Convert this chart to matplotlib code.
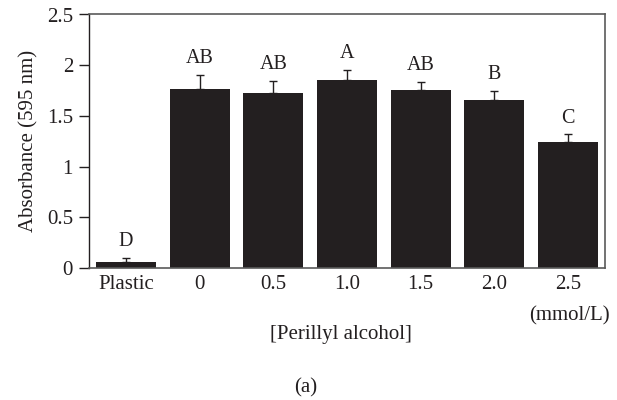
import matplotlib
matplotlib.use("Agg")
import matplotlib.pyplot as plt

categories = ["Plastic", "0", "0.5", "1.0", "1.5", "2.0", "2.5"]
values = [0.057, 1.766, 1.726, 1.858, 1.759, 1.660, 1.242]
errors = [0.045, 0.135, 0.115, 0.092, 0.076, 0.082, 0.075]
letters = ["D", "AB", "AB", "A", "AB", "B", "C"]
yticks = [0, 0.5, 1, 1.5, 2, 2.5]
yticklabels = ["0", "0.5", "1", "1.5", "2", "2.5"]

plt.rcParams['font.family'] = ['Liberation Serif', 'DejaVu Serif']

fig = plt.figure(figsize=(6.17, 4.0), dpi=100)
ax = fig.add_axes([89/617, 1 - 268/400, (605 - 89)/617, (268 - 14.5)/400])

x = list(range(len(categories)))
bar_color = "#231f20"
ax.bar(x, values, width=0.815, color=bar_color, zorder=2)
ax.errorbar(x, values, yerr=[[0]*len(errors), errors], fmt="none",
            ecolor=bar_color, elinewidth=1.0, capsize=3, capthick=1.0, zorder=3)

for xi, v, e, lab in zip(x, values, errors, letters):
    ax.annotate(lab, (xi, v + e), xytext=(0, 5), textcoords="offset points",
                ha="center", va="bottom", fontsize=14.5, color="#231f20")

ax.set_xlim(-0.5, 6.5)
ax.set_ylim(0, 2.5)
ax.set_xticks(x)
ax.set_xticklabels(categories, fontsize=15, color="#231f20")
ax.set_yticks(yticks)
ax.set_yticklabels(yticklabels, fontsize=15, color="#231f20")
ax.tick_params(axis="x", length=0, pad=5)
ax.tick_params(axis="y", direction="out", length=7.5, width=1.0, pad=4, color="#231f20")

ax.spines["left"].set_color("#231f20")
ax.spines["left"].set_linewidth(1.0)
for s in ["top", "right", "bottom"]:
    ax.spines[s].set_color("#5a5a5a")
    ax.spines[s].set_linewidth(1.2)

ax.set_ylabel("Absorbance (595 nm)", fontsize=15, color="#231f20", labelpad=6)

fig.text(610/617, 1 - 316/400, "(mmol/L)", ha="right", va="center",
         fontsize=15, color="#231f20")
fig.text(341/617, 1 - 334/400, "[Perillyl alcohol]", ha="center", va="center",
         fontsize=15, color="#231f20")
fig.text(306/617, 1 - 388/400, "(a)", ha="center", va="center",
         fontsize=15, color="#231f20")

fig.savefig("out.png", dpi=100)
